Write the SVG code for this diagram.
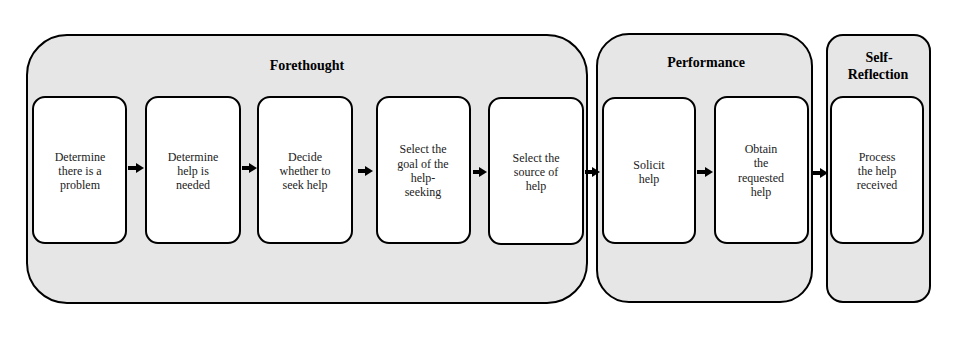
<svg xmlns="http://www.w3.org/2000/svg" width="960" height="341" viewBox="0 0 960 341">
<defs>
<style>
.phase{fill:#e6e6e6;stroke:#000;stroke-width:2}
.step{fill:#fff;stroke:#000;stroke-width:2}
.t{font-family:"Liberation Serif","Times New Roman",serif;font-size:12px;fill:#222;text-anchor:middle}
.h{font-family:"Liberation Serif","Times New Roman",serif;font-size:14px;font-weight:bold;fill:#000;text-anchor:middle}
.c{stroke:#000;stroke-width:4;fill:none;marker-end:url(#ah)}
</style>
<marker id="ah" markerUnits="userSpaceOnUse" markerWidth="8" markerHeight="10" refX="1" refY="5" orient="auto">
<path d="M0,0 L8,5 L0,10 Z" fill="#000"/>
</marker>
</defs>
<rect width="960" height="341" fill="#fff"/>
<g id="forethought">
<rect class="phase" x="27" y="35" width="560" height="268" rx="40" ry="40"/>
<text class="h" x="307" y="70">Forethought</text>
</g>
<g id="performance">
<rect class="phase" x="597" y="34" width="215" height="268" rx="32" ry="32"/>
<text class="h" x="706" y="67">Performance</text>
</g>
<g id="self-reflection">
<rect class="phase" x="827" y="35" width="103" height="267" rx="16" ry="16"/>
<text class="h" x="879" y="62">Self-</text>
<text class="h" x="878" y="79">Reflection</text>
</g>
<g id="step1">
<rect class="step" x="33" y="97" width="93" height="146" rx="12" ry="12"/>
<text class="t" x="80" y="161">Determine</text>
<text class="t" x="80" y="175">there is a</text>
<text class="t" x="80" y="189">problem</text>
</g>
<g id="step2">
<rect class="step" x="146" y="97" width="94" height="146" rx="12" ry="12"/>
<text class="t" x="193" y="161">Determine</text>
<text class="t" x="193" y="175">help is</text>
<text class="t" x="193" y="189">needed</text>
</g>
<g id="step3">
<rect class="step" x="258" y="97" width="94" height="146" rx="12" ry="12"/>
<text class="t" x="305" y="161">Decide</text>
<text class="t" x="305" y="175">whether to</text>
<text class="t" x="305" y="189">seek help</text>
</g>
<g id="step4">
<rect class="step" x="377" y="97" width="93" height="146" rx="12" ry="12"/>
<text class="t" x="423" y="153">Select the</text>
<text class="t" x="423" y="168">goal of the</text>
<text class="t" x="423" y="182">help-</text>
<text class="t" x="423" y="196">seeking</text>
</g>
<g id="step5">
<rect class="step" x="489" y="98" width="94" height="146" rx="12" ry="12"/>
<text class="t" x="536" y="162">Select the</text>
<text class="t" x="536" y="176">source of</text>
<text class="t" x="536" y="190">help</text>
</g>
<g id="step6">
<rect class="step" x="603" y="98" width="92" height="145" rx="12" ry="12"/>
<text class="t" x="649" y="169">Solicit</text>
<text class="t" x="649" y="183">help</text>
</g>
<g id="step7">
<rect class="step" x="715" y="97" width="93" height="146" rx="12" ry="12"/>
<text class="t" x="761" y="153">Obtain</text>
<text class="t" x="761" y="167">the</text>
<text class="t" x="761" y="182">requested</text>
<text class="t" x="761" y="196">help</text>
</g>
<g id="step8">
<rect class="step" x="831" y="97" width="92" height="146" rx="12" ry="12"/>
<text class="t" x="877" y="161">Process</text>
<text class="t" x="877" y="175">the help</text>
<text class="t" x="877" y="189">received</text>
</g>
<g id="connectors">
<line class="c" x1="128" y1="168" x2="137" y2="168"/>
<line class="c" x1="242" y1="168" x2="250" y2="168"/>
<line class="c" x1="358" y1="171" x2="366" y2="171"/>
<line class="c" x1="473" y1="172" x2="480" y2="172"/>
<line class="c" x1="585" y1="172" x2="593" y2="172"/>
<line class="c" x1="697" y1="172" x2="706" y2="172"/>
<line class="c" x1="812" y1="173" x2="821" y2="173"/>
</g>
</svg>
